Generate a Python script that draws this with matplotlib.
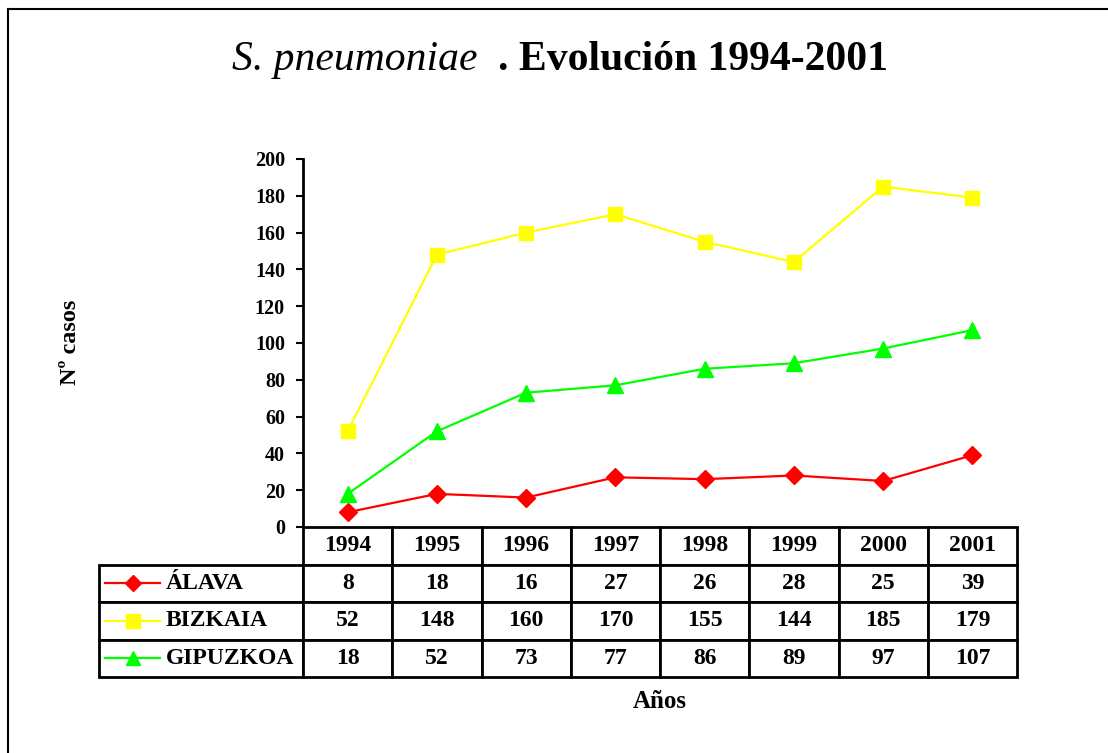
import matplotlib.pyplot as plt
from matplotlib.lines import Line2D

# data
years = ["1994", "1995", "1996", "1997", "1998", "1999", "2000", "2001"]
alava = [8, 18, 16, 27, 26, 28, 25, 39]
bizkaia = [52, 148, 160, 170, 155, 144, 185, 179]
gipuzkoa = [18, 52, 73, 77, 86, 89, 97, 107]
series_names = ["ÁLAVA", "BIZKAIA", "GIPUZKOA"]
yticks = list(range(0, 201, 20))

colors = ["#ff0000", "#ffff00", "#00ff00"]
markers = ["D", "s", "^"]
msizes = [9, 10.5, 11]

plt.rcParams["font.family"] = ["Liberation Serif", "DejaVu Serif"]
plt.rcParams["font.weight"] = "bold"

W, H = 1108, 753
fig = plt.figure(figsize=(W / 100, H / 100), dpi=100)

# axes box in pixels
x0, x1, ytop, ybot = 303, 1017, 159, 527
ax = fig.add_axes([x0 / W, 1 - ybot / H, (x1 - x0) / W, (ybot - ytop) / H])

xs = list(range(len(years)))
for vals, c, m, ms in zip([alava, bizkaia, gipuzkoa], colors, markers, msizes):
    ax.plot(xs, vals, color=c, marker=m, markersize=ms, linewidth=1.6, clip_on=False)

ax.set_xlim(-0.5, len(years) - 0.5)
ax.set_ylim(0, 200)
ax.set_yticks(yticks)
ax.set_xticks([])
ax.tick_params(axis="y", direction="out", length=5, width=1.5, labelsize=14.5, pad=8)
for lab in ax.get_yticklabels():
    lab.set_fontweight("bold")
for s in ["top", "right", "bottom"]:
    ax.spines[s].set_visible(False)
ax.spines["left"].set_linewidth(2)
ax.patch.set_alpha(0)

# data table
tleft, tbot = 99, 677
aw, ah = x1 - x0, ybot - ytop
label_w = (x0 - tleft) / aw
cell_text = [[""] + [str(v) for v in vals] for vals in [alava, bizkaia, gipuzkoa]]
tab = ax.table(cellText=cell_text, colLabels=[""] + years,
               colWidths=[label_w] + [1 / len(years)] * len(years),
               cellLoc="center",
               bbox=[(tleft - x0) / aw, -(tbot - ybot) / ah, (x1 - tleft) / aw, (tbot - ybot) / ah])
tab.auto_set_font_size(False)
tab.set_fontsize(17)
for (r, c), cell in tab.get_celld().items():
    cell.set_linewidth(2)
    cell.get_text().set_fontweight("bold")
    if r == 0 and c == 0:
        cell.visible_edges = "open"

# legend keys + names in the label column
row_h = (tbot - ybot) / 4
for i, (name, c, m, ms) in enumerate(zip(series_names, colors, markers, msizes)):
    yc = ybot + row_h * (i + 1.5)
    fy = 1 - yc / H
    fig.add_artist(Line2D([105 / W, 160 / W], [fy, fy], color=c, linewidth=1.6))
    fig.add_artist(Line2D([132.5 / W], [fy], color=c, marker=m, markersize=ms * 0.9))
    fig.text(166 / W, fy, name, fontsize=17, fontweight="bold", va="center", ha="left")

# title
fig.text(478 / W, 1 - 60 / H, "S. pneumoniae", fontsize=30, style="italic",
         fontweight="normal", ha="right", va="center")
fig.text(498 / W, 1 - 60 / H, ". Evolución 1994-2001", fontsize=30, fontweight="bold",
         ha="left", va="center")

fig.text(70 / W, 1 - 342 / H, "Nº casos", fontsize=17.5, fontweight="bold",
         rotation=90, ha="center", va="center")
fig.text(660 / W, 1 - 701 / H, "Años", fontsize=18, fontweight="bold",
         ha="center", va="center")

# outer border (top and left visible)
fig.add_artist(Line2D([8 / W, 1.0], [1 - 9 / H, 1 - 9 / H], color="black", linewidth=1.5))
fig.add_artist(Line2D([8 / W, 8 / W], [0, 1 - 9 / H], color="black", linewidth=1.5))

fig.savefig("out.png", dpi=100)
